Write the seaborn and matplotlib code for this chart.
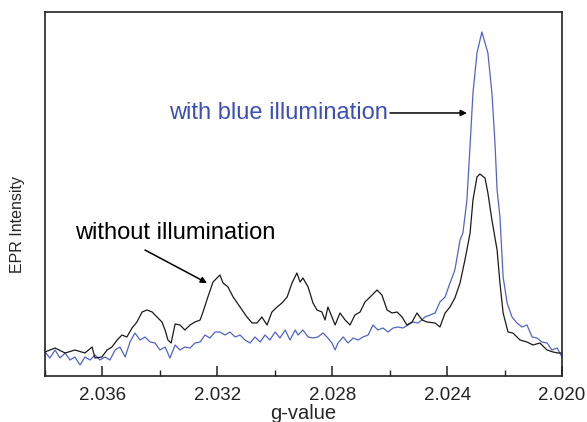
import matplotlib
matplotlib.use("Agg")
import matplotlib.pyplot as plt
import seaborn as sns
import pandas as pd
from matplotlib.ticker import MultipleLocator

# ---- data ----
g_black = [2.03800, 2.03765, 2.03730, 2.03696, 2.03661, 2.03636, 2.03626, 2.03602,
           2.03584, 2.03567, 2.03549, 2.03532, 2.03515, 2.03497, 2.03480, 2.03462,
           2.03445, 2.03427, 2.03410, 2.03393, 2.03382, 2.03372, 2.03361, 2.03347,
           2.03330, 2.03313, 2.03295, 2.03278, 2.03260, 2.03250, 2.03233, 2.03215,
           2.03191, 2.03180, 2.03163, 2.03145, 2.03121, 2.03097, 2.03079, 2.03062,
           2.03045, 2.03027, 2.03010, 2.02992, 2.02975, 2.02957, 2.02940, 2.02923,
           2.02912, 2.02902, 2.02884, 2.02867, 2.02853, 2.02836, 2.02825, 2.02815,
           2.02801, 2.02790, 2.02773, 2.02755, 2.02738, 2.02721, 2.02703, 2.02686,
           2.02668, 2.02644, 2.02627, 2.02609, 2.02592, 2.02574, 2.02557, 2.02540,
           2.02522, 2.02505, 2.02487, 2.02470, 2.02442, 2.02425, 2.02407, 2.02390,
           2.02373, 2.02355, 2.02338, 2.02320, 2.02310, 2.02296, 2.02286, 2.02268,
           2.02258, 2.02244, 2.02226, 2.02216, 2.02205, 2.02188, 2.02171, 2.02146,
           2.02122, 2.02101, 2.02077, 2.02052, 2.02031, 2.02014, 2.02000]
i_black = [24, 28, 23, 26, 23, 29, 18, 19,
           26, 29, 36, 41, 39, 48, 54, 64,
           66, 64, 59, 54, 46, 36, 33, 52,
           51, 46, 51, 54, 56, 64, 79, 94,
           101, 93, 89, 79, 69, 59, 53, 53,
           59, 51, 64, 69, 73, 79, 93, 103,
           94, 98, 89, 73, 66, 64, 56, 69,
           59, 51, 63, 56, 51, 61, 64, 74,
           79, 86, 81, 66, 63, 64, 59, 51,
           54, 63, 56, 54, 53, 49, 63, 69,
           78, 93, 116, 143, 176, 199, 202, 198,
           183, 156, 126, 93, 63, 44, 43, 36,
           34, 31, 33, 26, 24, 23, 23]

g_blue = [2.03800, 2.03783, 2.03765, 2.03748, 2.03730, 2.03713, 2.03696, 2.03678,
          2.03661, 2.03643, 2.03626, 2.03609, 2.03591, 2.03574, 2.03556, 2.03539,
          2.03521, 2.03504, 2.03487, 2.03469, 2.03452, 2.03434, 2.03417, 2.03400,
          2.03382, 2.03365, 2.03347, 2.03330, 2.03313, 2.03295, 2.03278, 2.03260,
          2.03243, 2.03226, 2.03208, 2.03191, 2.03173, 2.03156, 2.03138, 2.03121,
          2.03104, 2.03086, 2.03069, 2.03051, 2.03034, 2.03017, 2.02999, 2.02982,
          2.02964, 2.02947, 2.02929, 2.02919, 2.02902, 2.02884, 2.02867, 2.02850,
          2.02832, 2.02815, 2.02801, 2.02790, 2.02780, 2.02762, 2.02745, 2.02727,
          2.02710, 2.02693, 2.02675, 2.02658, 2.02641, 2.02623, 2.02606, 2.02588,
          2.02571, 2.02554, 2.02536, 2.02519, 2.02501, 2.02477, 2.02459, 2.02442,
          2.02425, 2.02407, 2.02390, 2.02373, 2.02355, 2.02345, 2.02331, 2.02320,
          2.02310, 2.02296, 2.02279, 2.02268, 2.02258, 2.02244, 2.02233, 2.02226,
          2.02216, 2.02205, 2.02191, 2.02174, 2.02157, 2.02139, 2.02122, 2.02104,
          2.02087, 2.02070, 2.02052, 2.02035, 2.02017, 2.02000]
i_blue = [24, 18, 26, 18, 23, 16, 19, 11,
          19, 16, 21, 16, 19, 16, 26, 29,
          19, 34, 43, 36, 39, 34, 33, 26,
          29, 18, 31, 26, 29, 28, 33, 34,
          41, 38, 44, 44, 41, 44, 39, 41,
          36, 33, 39, 34, 41, 36, 44, 38,
          46, 36, 46, 41, 46, 39, 38, 39,
          43, 38, 33, 26, 33, 39, 33, 38,
          36, 39, 41, 51, 46, 48, 44, 48,
          49, 48, 51, 54, 53, 59, 61, 63,
          74, 79, 93, 106, 136, 143, 176, 231,
          283, 323, 344, 333, 323, 283, 231, 186,
          159, 99, 73, 59, 53, 49, 51, 39,
          38, 34, 33, 26, 28, 19]

xticks = [2.036, 2.032, 2.028, 2.024, 2.020]
xtick_labels = ["2.036", "2.032", "2.028", "2.024", "2.020"]
label_blue = "with blue illumination"
label_black = "without illumination"

df_black = pd.DataFrame({"g": g_black, "I": i_black})
df_blue = pd.DataFrame({"g": g_blue, "I": i_blue})

sns.set_style("white")
plt.rcParams["font.family"] = ["Liberation Sans", "DejaVu Sans"]

fig = plt.figure(figsize=(5.87, 4.22), dpi=100)
ax = fig.add_axes([0.0767, 0.109, 0.8807, 0.8626])

line_blue = "#5363c6"
text_blue = "#3d4fb6"
sns.lineplot(data=df_blue, x="g", y="I", color=line_blue, lw=0.9, ax=ax, sort=False)
sns.lineplot(data=df_black, x="g", y="I", color="#1a1a1a", lw=0.9, ax=ax, sort=False)

ax.set_xlim(2.038, 2.020)
ax.set_ylim(0, 364)
ax.set_xticks(xticks)
ax.set_xticklabels(xtick_labels, fontsize=13.5)
ax.xaxis.set_minor_locator(MultipleLocator(0.002))
ax.tick_params(axis="x", which="major", direction="in", length=7, width=1.1,
               bottom=True, top=False, pad=8, colors="#222222")
ax.tick_params(axis="x", which="minor", direction="in", length=4, width=1.0,
               bottom=True, top=False, colors="#222222")
ax.tick_params(axis="y", left=False, labelleft=False)
ax.set_yticks([])
for s in ax.spines.values():
    s.set_linewidth(1.2)
    s.set_color("#222222")

ax.set_xlabel("g-value", fontsize=14.5, labelpad=0)
ax.set_ylabel("EPR Intensity", fontsize=11.5)
ax.yaxis.set_label_coords(-0.039, 0.415)

# annotations
ax.text(2.02606, 263, label_blue, color=text_blue, fontsize=17, ha="right", va="center")
ax.annotate("", xy=(2.02331, 263), xytext=(2.02599, 263),
            arrowprops=dict(arrowstyle="-|>", color="black", lw=1.1, mutation_scale=9,
                            shrinkA=0, shrinkB=0))
ax.text(2.03696, 143, label_black, color="black", fontsize=17, ha="left", va="center")
ax.annotate("", xy=(2.03236, 93), xytext=(2.03452, 126),
            arrowprops=dict(arrowstyle="-|>", color="black", lw=1.1, mutation_scale=9,
                            shrinkA=0, shrinkB=0))

fig.savefig("out.png", dpi=100)
